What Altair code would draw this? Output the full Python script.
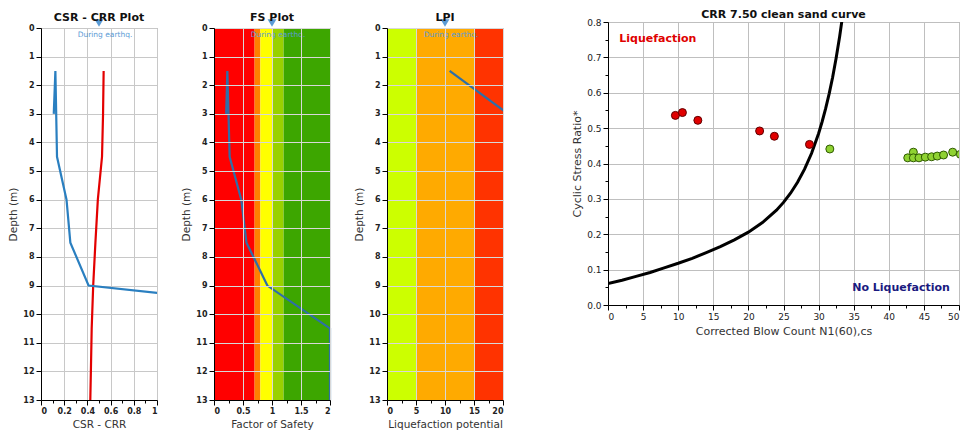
import altair as alt
import pandas as pd

# ---------------- data ----------------
depth = [1.5, 3.0, 4.5, 6.0, 7.5, 9.0, 10.5, 12.0, 13.0]
crr = [0.124, 0.11, 0.138, 0.22, 0.253, 0.41, 3.9, 4.0, 4.0]
csr = [0.54, 0.535, 0.526, 0.49, 0.469, 0.45, 0.437, 0.43, 0.425]
fs = [0.23, 0.21, 0.27, 0.47, 0.56, 0.92, 2.0, 2.0, 2.0]
lpi_depth = [1.5, 3.0]
lpi = [10.8, 20.9]

fs_band_names = ["FS<0.7", "0.7-0.8", "0.8-1.0", "1.0-1.2", ">1.2"]
fs_band_lo = [0.0, 0.7, 0.8, 1.0, 1.2]
fs_band_hi = [0.7, 0.8, 1.0, 1.2, 2.0]
lpi_band_names = ["low", "high", "very high"]
lpi_band_lo = [0, 5, 15]
lpi_band_hi = [5, 15, 20]
band_depth = [0, 13]

# CRR 7.50 clean sand curve
curve_n = [0, 2, 4, 6, 8, 10, 12, 14, 16, 18, 20, 22, 24, 25, 26, 27, 28, 29,
           30, 30.5, 31, 31.5, 32, 32.5, 33, 33.5]
curve_crr = [0.061, 0.070, 0.081, 0.092, 0.105, 0.118, 0.132, 0.148, 0.165,
             0.184, 0.206, 0.233, 0.268, 0.290, 0.316, 0.347, 0.384, 0.429,
             0.485, 0.518, 0.555, 0.597, 0.644, 0.698, 0.759, 0.829]

liq_n = [9.6, 10.6, 12.8, 21.6, 23.7, 28.7]
liq_csr = [0.536, 0.544, 0.522, 0.492, 0.477, 0.454]
noliq_n = [31.6, 42.7, 43.5, 43.5, 44.3, 45.2, 46.1, 46.9, 47.8, 49.1, 50.2]
noliq_csr = [0.441, 0.416, 0.432, 0.416, 0.416, 0.418, 0.419, 0.421, 0.424, 0.432, 0.426]

markers = {"csr": 0.5, "fs": 1.0, "lpi": 10}

# ---------------- helpers ----------------
FONT = "DejaVu Sans"
W, H = 116, 372
GAP = 57


def frange(a, b, step):
    out = []
    v = a
    while v <= b + 1e-9:
        out.append(round(v, 4))
        v += step
    return out


def cond_axis(values, major_test, title, fmt="~f", bold=True, fs_lab=8, tfs=10.5, z=0,
              grid_color="#c8c8c8"):
    kw = dict(
        title=title,
        values=values,
        format=fmt,
        labelExpr=f"({major_test}) ? datum.label : ''",
        tickSize={"condition": {"test": major_test, "value": 5}, "value": 3},
        gridOpacity={"condition": {"test": major_test, "value": 1}, "value": 0},
        tickColor="#000",
        domainColor="#000",
        labelFontWeight="bold" if bold else "normal",
        labelFontSize=fs_lab,
        labelColor="#222",
        titleFontWeight="normal",
        titleColor="#333",
        titleFontSize=tfs,
        labelFont=FONT,
        titleFont=FONT,
        gridColor=grid_color,
        labelOverlap=False,
        zindex=z,
    )
    return alt.Axis(**kw)


depth_vals = frange(0, 13, 0.5)
depth_test = "round(datum.value*2) % 2 == 0"
depth_scale = alt.Scale(domain=[0, 13], reverse=True, nice=False)


def deco(xval, xscale, xaxis):
    m = pd.DataFrame({"x": [xval], "label": ["During earthq."]})
    tri = alt.Chart(m).mark_point(shape="triangle-down", filled=True, size=80,
                                  color="#5b9bd5", opacity=1).encode(
        x=alt.X("x:Q", scale=xscale, axis=xaxis), y=alt.value(-5))
    txt = alt.Chart(m).mark_text(fontSize=7.5, font=FONT, color="#5b9bd5",
                                 dx=6, baseline="middle").encode(
        x=alt.X("x:Q", scale=xscale, axis=xaxis), y=alt.value(7), text="label:N")
    return tri, txt


def depth_title(t):
    return alt.TitleParams(t, fontSize=11, fontWeight="bold", font=FONT, color="#111", offset=-4)


# ---------------- panel 1: CSR - CRR ----------------
df1 = pd.DataFrame({"depth": depth, "CRR": crr, "CSR": csr})
xs1 = alt.Scale(domain=[0, 1], nice=False)
x1_axis = cond_axis(frange(0, 1, 0.1), "round(datum.value*10) % 2 == 0", "CSR - CRR")
y1_axis = cond_axis(depth_vals, depth_test, "Depth (m)", fmt="d")
crr_line = alt.Chart(df1).mark_line(color="#2a7fc0", strokeWidth=2.2, clip=True).encode(
    x=alt.X("CRR:Q", scale=xs1, axis=x1_axis),
    y=alt.Y("depth:Q", scale=depth_scale, axis=y1_axis))
csr_line = alt.Chart(df1).mark_line(color="#e30000", strokeWidth=2.2, clip=True).encode(
    x=alt.X("CSR:Q", scale=xs1, axis=x1_axis),
    y=alt.Y("depth:Q", scale=depth_scale, axis=y1_axis))
t1, tx1 = deco(markers["csr"], xs1, x1_axis)
p1 = alt.layer(csr_line, crr_line, t1, tx1).properties(
    width=W, height=H, title=depth_title("CSR - CRR Plot"))

# ---------------- panel 2: FS ----------------
fsb = pd.DataFrame({"band": fs_band_names, "lo": fs_band_lo, "hi": fs_band_hi,
                    "d0": [band_depth[0]] * 5, "d1": [band_depth[1]] * 5})
xs2 = alt.Scale(domain=[0, 2], nice=False)
x2_axis = cond_axis(frange(0, 2, 0.25), "round(datum.value*4) % 2 == 0", "Factor of Safety",
                    z=1, grid_color="#d8d8d8")
y2_axis = cond_axis(depth_vals, depth_test, "Depth (m)", fmt="d", z=1, grid_color="#d8d8d8")
bands2 = alt.Chart(fsb).mark_rect().encode(
    x=alt.X("lo:Q", scale=xs2, axis=x2_axis), x2="hi:Q",
    y=alt.Y("d0:Q", scale=depth_scale, axis=y2_axis), y2="d1:Q",
    color=alt.Color("band:N", legend=None,
                    scale=alt.Scale(domain=fs_band_names,
                                    range=["#ff0000", "#ff8000", "#ffff00", "#99d100", "#3da600"])))
df2 = pd.DataFrame({"depth": depth, "FS": fs})
fs_line = alt.Chart(df2).mark_line(color="#2e6fa8", strokeWidth=2.2).encode(
    x=alt.X("FS:Q", scale=xs2, axis=x2_axis),
    y=alt.Y("depth:Q", scale=depth_scale, axis=y2_axis))
t2, tx2 = deco(markers["fs"], xs2, x2_axis)
p2 = alt.layer(bands2, fs_line, t2, tx2).properties(
    width=W, height=H, title=depth_title("FS Plot"))

# ---------------- panel 3: LPI ----------------
lpb = pd.DataFrame({"lband": lpi_band_names, "lo": lpi_band_lo, "hi": lpi_band_hi,
                    "d0": [band_depth[0]] * 3, "d1": [band_depth[1]] * 3})
xs3 = alt.Scale(domain=[0, 20], nice=False)
x3_axis = cond_axis(frange(0, 20, 2.5), "round(datum.value*2) % 2 == 0",
                    "Liquefaction potential", fmt="d", z=1, grid_color="#d8d8d8")
y3_axis = cond_axis(depth_vals, depth_test, "Depth (m)", fmt="d", z=1, grid_color="#d8d8d8")
bands3 = alt.Chart(lpb).mark_rect().encode(
    x=alt.X("lo:Q", scale=xs3, axis=x3_axis), x2="hi:Q",
    y=alt.Y("d0:Q", scale=depth_scale, axis=y3_axis), y2="d1:Q",
    color=alt.Color("lband:N", legend=None,
                    scale=alt.Scale(domain=lpi_band_names,
                                    range=["#ccff00", "#ffaa00", "#ff3300"])))
df3 = pd.DataFrame({"depth": lpi_depth, "LPI": lpi})
lpi_line = alt.Chart(df3).mark_line(color="#2e6fa8", strokeWidth=2.2, clip=True).encode(
    x=alt.X("LPI:Q", scale=xs3, axis=x3_axis),
    y=alt.Y("depth:Q", scale=depth_scale, axis=y3_axis))
t3, tx3 = deco(markers["lpi"], xs3, x3_axis)
p3 = alt.layer(bands3, lpi_line, t3, tx3).properties(
    width=W, height=H, title=depth_title("LPI"))

# ---------------- panel 4: CRR curve ----------------
xs4 = alt.Scale(domain=[0, 50], nice=False)
ys4 = alt.Scale(domain=[0, 0.8], nice=False)
x4_axis = cond_axis(frange(0, 50, 2.5), "round(datum.value*2) % 2 == 0",
                    "Corrected Blow Count N1(60),cs", fmt="d", bold=False, fs_lab=9, tfs=11,
                    grid_color="#bfbfbf")
y4_axis = cond_axis(frange(0, 0.8, 0.05), "round(datum.value*20) % 2 == 0",
                    "Cyclic Stress Ratio*", fmt=".1f", bold=False, fs_lab=9, tfs=11,
                    grid_color="#bfbfbf")


def X4(f):
    return alt.X(f"{f}:Q", scale=xs4, axis=x4_axis)


def Y4(f):
    return alt.Y(f"{f}:Q", scale=ys4, axis=y4_axis)


cdf = pd.DataFrame({"N": curve_n, "CRR": curve_crr})
curve = alt.Chart(cdf).mark_line(color="#000", strokeWidth=3, clip=True).encode(
    x=X4("N"), y=Y4("CRR"))
ldf = pd.DataFrame({"N": liq_n, "CRR": liq_csr})
nldf = pd.DataFrame({"N": noliq_n, "CRR": noliq_csr})
liq_pts = alt.Chart(ldf).mark_circle(size=64, color="#e00000", stroke="#600000",
                                     strokeWidth=1, opacity=1, clip=True).encode(
    x=X4("N"), y=Y4("CRR"))
noliq_pts = alt.Chart(nldf).mark_circle(size=64, color="#8fd232", stroke="#2f5a00",
                                        strokeWidth=1, opacity=1, clip=True).encode(
    x=X4("N"), y=Y4("CRR"))
lab_df = pd.DataFrame({"N": [1.6], "CRR": [0.751], "t": ["Liquefaction"]})
lab2_df = pd.DataFrame({"N": [48.7], "CRR": [0.048], "t": ["No Liquefaction"]})
lab1 = alt.Chart(lab_df).mark_text(align="left", baseline="middle", fontSize=11,
                                   fontWeight="bold", font=FONT, color="#e00000").encode(
    x=X4("N"), y=Y4("CRR"), text="t:N")
lab2 = alt.Chart(lab2_df).mark_text(align="right", baseline="middle", fontSize=11,
                                    fontWeight="bold", font=FONT, color="#1a1a80").encode(
    x=X4("N"), y=Y4("CRR"), text="t:N")
p4 = alt.layer(curve, liq_pts, noliq_pts, lab1, lab2).properties(
    width=351, height=283,
    title=alt.TitleParams("CRR 7.50 clean sand curve", fontSize=11, fontWeight="bold",
                          font=FONT, color="#111", offset=-2))

# spacer (as wide as the three depth panels) to drop them slightly below the curve panel
spacer_df = pd.DataFrame({"v": [0]})
spacer = alt.Chart(spacer_df).mark_point(opacity=0).encode(
    x=alt.X("v:Q", axis=None), y=alt.Y("v:Q", axis=None)
).properties(width=3 * W + 2 * GAP, height=1, view=alt.ViewBackground(stroke="transparent"))

row = alt.hconcat(p1, p2, p3, spacing=GAP, bounds="flush").resolve_scale(color="independent")
left = alt.vconcat(spacer, row, spacing=5, bounds="flush")
chart = alt.hconcat(left, p4, spacing=67).properties(
    padding={"left": 0, "top": 0, "right": 0, "bottom": 0}
).configure_view(stroke="#999999")

chart.save("out.html", embed_options={"renderer": "svg", "actions": False})
